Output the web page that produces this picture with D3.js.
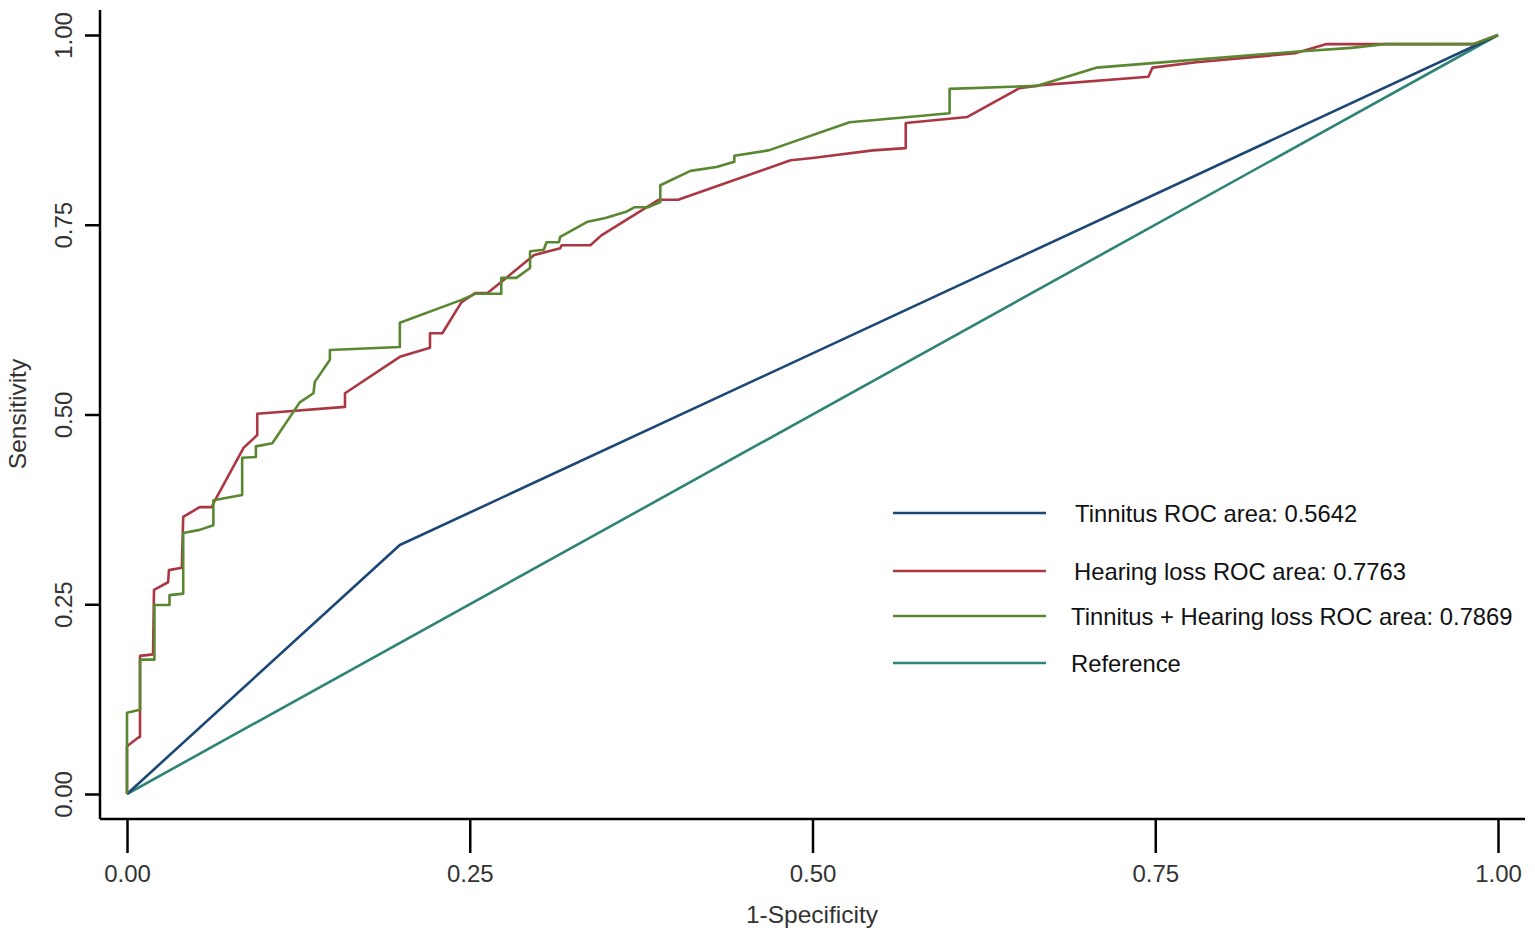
<!DOCTYPE html>
<html>
<head>
<meta charset="utf-8">
<script src="https://cdn.jsdelivr.net/npm/d3@7"></script>
<style>
  html, body { margin: 0; padding: 0; background: #fff; }
  svg { display: block; font-family: "Liberation Sans", Arial, sans-serif; }
</style>
</head>
<body>
<div id="chart"></div>
<script>
// ROC curves (1-specificity, sensitivity)
const tinnitusFpr = [0, 0.199, 1];
const tinnitusTpr = [0, 0.328, 1];

const hearingFpr = [0, 0, 0.0088, 0.0095, 0.0095, 0.019, 0.0197, 0.030, 0.0306, 0.040, 0.041, 0.053, 0.062, 0.063,
  0.085, 0.095, 0.095, 0.159, 0.159, 0.199, 0.221, 0.221, 0.230, 0.244, 0.254, 0.263, 0.297, 0.316, 0.317, 0.338,
  0.346, 0.388, 0.402, 0.484, 0.500, 0.544, 0.568, 0.568, 0.613, 0.651, 0.667, 0.745, 0.748, 0.780, 0.852, 0.875,
  0.917, 0.982, 1];
const hearingTpr = [0, 0.063, 0.075, 0.075, 0.182, 0.184, 0.269, 0.279, 0.295, 0.298, 0.365, 0.378, 0.378, 0.383,
  0.456, 0.473, 0.501, 0.510, 0.528, 0.576, 0.588, 0.607, 0.607, 0.648, 0.660, 0.660, 0.710, 0.719, 0.723, 0.723,
  0.736, 0.783, 0.783, 0.835, 0.838, 0.848, 0.851, 0.884, 0.892, 0.930, 0.934, 0.945, 0.957, 0.964, 0.976, 0.988,
  0.988, 0.988, 1];

const comboFpr = [0, 0, 0.0095, 0.0095, 0.020, 0.020, 0.031, 0.031, 0.041, 0.041, 0.053, 0.063, 0.063, 0.084,
  0.084, 0.094, 0.094, 0.106, 0.126, 0.136, 0.137, 0.148, 0.148, 0.199, 0.199, 0.244, 0.254, 0.273, 0.273, 0.284,
  0.294, 0.294, 0.304, 0.306, 0.315, 0.316, 0.336, 0.349, 0.364, 0.370, 0.380, 0.389, 0.389, 0.411, 0.430, 0.443,
  0.443, 0.468, 0.527, 0.564, 0.600, 0.600, 0.664, 0.707, 0.748, 0.852, 0.893, 0.917, 0.982, 1];
const comboTpr = [0, 0.107, 0.111, 0.177, 0.177, 0.249, 0.249, 0.262, 0.264, 0.344, 0.348, 0.354, 0.387, 0.394,
  0.443, 0.444, 0.458, 0.462, 0.516, 0.528, 0.543, 0.572, 0.585, 0.589, 0.621, 0.651, 0.659, 0.659, 0.680, 0.680,
  0.693, 0.715, 0.717, 0.727, 0.727, 0.734, 0.754, 0.759, 0.767, 0.773, 0.773, 0.780, 0.802, 0.821, 0.826, 0.833,
  0.841, 0.848, 0.885, 0.891, 0.897, 0.929, 0.933, 0.957, 0.963, 0.978, 0.983, 0.988, 0.988, 1];

const referenceFpr = [0, 1];
const referenceTpr = [0, 1];

const legendLabels = [
  "Tinnitus ROC area: 0.5642",
  "Hearing loss ROC area: 0.7763",
  "Tinnitus + Hearing loss ROC area: 0.7869",
  "Reference"
];
const tickValues = [0, 0.25, 0.5, 0.75, 1];

const series = [
  { fpr: tinnitusFpr, tpr: tinnitusTpr, color: "#1d4876" },
  { fpr: hearingFpr, tpr: hearingTpr, color: "#ab3744" },
  { fpr: comboFpr, tpr: comboTpr, color: "#5a8731" },
  { fpr: referenceFpr, tpr: referenceTpr, color: "#2f8477" }
];

const W = 1535, H = 937;
const svg = d3.select("#chart").append("svg")
  .attr("width", W)
  .attr("height", H);

const x = d3.scaleLinear().domain([0, 1]).range([127, 1498]);
const y = d3.scaleLinear().domain([0, 1]).range([794, 35]);

// ejes
const xAxis = svg.append("g")
  .attr("transform", "translate(0,819)")
  .call(d3.axisBottom(x).tickValues(tickValues).tickFormat(d3.format(".2f")).tickSize(34).tickSizeOuter(0));
xAxis.select(".domain").attr("d", "M100,0H1525");
xAxis.selectAll(".tick line").attr("stroke", "#000").attr("stroke-width", 2.5);
xAxis.selectAll(".tick text")
  .attr("y", 63)
  .attr("dy", 0)
  .attr("font-size", 24)
  .attr("fill", "#333")
  .attr("font-family", "Liberation Sans, Arial, sans-serif");

const yAxis = svg.append("g")
  .attr("transform", "translate(100,0)")
  .call(d3.axisLeft(y).tickValues(tickValues).tickFormat(d3.format(".2f")).tickSize(15).tickSizeOuter(0));
yAxis.select(".domain").attr("d", "M0,10V819");
yAxis.selectAll(".tick line").attr("stroke", "#000").attr("stroke-width", 2.5);
yAxis.selectAll(".tick text")
  .attr("x", 0)
  .attr("dy", 0)
  .attr("transform", "translate(-28,0) rotate(-90)")
  .attr("text-anchor", "middle")
  .attr("font-size", 24)
  .attr("fill", "#333")
  .attr("font-family", "Liberation Sans, Arial, sans-serif");

svg.selectAll(".domain").attr("stroke", "#000").attr("stroke-width", 2.5);

// títulos de ejes
svg.append("text")
  .attr("x", 812)
  .attr("y", 923)
  .attr("text-anchor", "middle")
  .attr("font-size", 24.5)
  .attr("fill", "#333")
  .text("1-Specificity");

svg.append("text")
  .attr("transform", "translate(26,414) rotate(-90)")
  .attr("text-anchor", "middle")
  .attr("font-size", 24.5)
  .attr("fill", "#333")
  .text("Sensitivity");

// curvas
const line = d3.line()
  .x(d => x(d[0]))
  .y(d => y(d[1]));

// referencia primero, las demás encima
[3, 0, 1, 2].forEach(i => {
  const s = series[i];
  const pts = s.fpr.map((f, k) => [f, s.tpr[k]]);
  svg.append("path")
    .datum(pts)
    .attr("d", line)
    .attr("fill", "none")
    .attr("stroke", s.color)
    .attr("stroke-width", 2.6)
    .attr("stroke-linejoin", "round");
});

// leyenda
const legendY = [513, 571, 616, 663];
const legendTextX = [1075, 1074, 1071, 1071];
const legend = svg.append("g");
legendLabels.forEach((lab, i) => {
  legend.append("line")
    .attr("x1", 893).attr("x2", 1046)
    .attr("y1", legendY[i]).attr("y2", legendY[i])
    .attr("stroke", series[i].color)
    .attr("stroke-width", 2.6);
  legend.append("text")
    .attr("x", legendTextX[i])
    .attr("y", legendY[i])
    .attr("dy", "0.36em")
    .attr("font-size", 23.8)
    .attr("fill", "#111")
    .text(lab);
});
</script>
</body>
</html>
